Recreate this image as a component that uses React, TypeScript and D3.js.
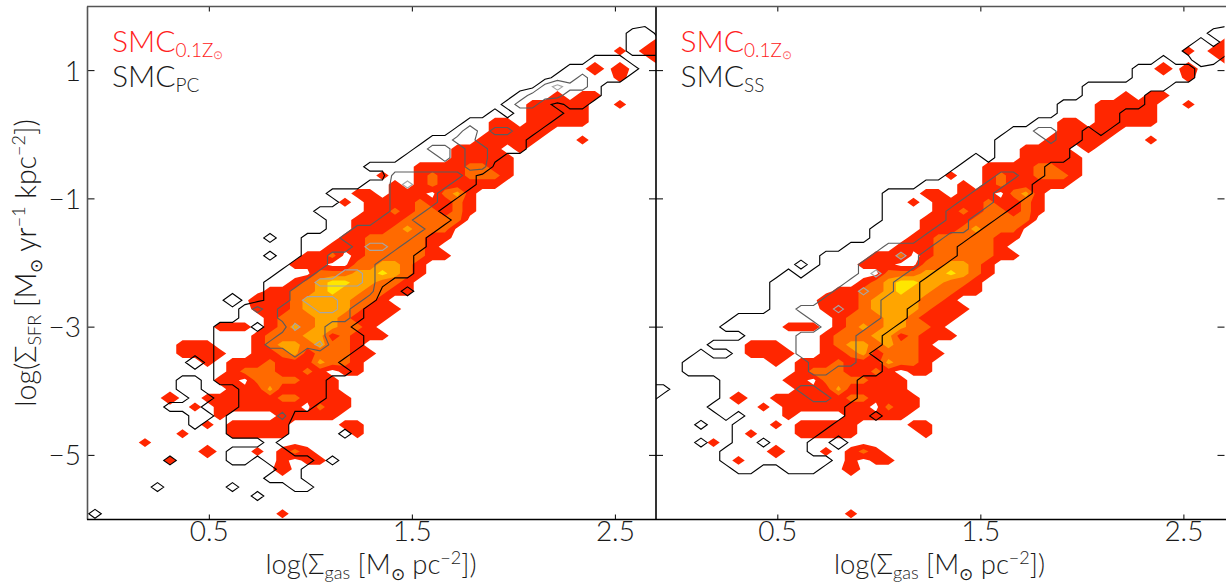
import React, { useMemo } from "react";
import * as d3 from "d3";

// Density grids: [row, firstColumn, digits]. Rows run top to bottom, columns left to right.
const redCells: [number, number, string][] = [
  [4,46,"1"],[5,43,"1"],[5,45,"11"],[6,46,"1"],[7,41,"2"],[7,43,"2"],[8,43,"1"],
  [10,38,"1"],[10,40,"11"],[11,36,"11111"],[11,43,"1"],[12,36,"11111"],[13,33,"11"],[13,36,"11111"],
  [14,33,"11111"],[15,32,"11111"],[15,40,"1"],[16,30,"111101"],[17,30,"11111"],[18,27,"11113311"],
  [19,24,"10013113331"],[20,25,"101311111"],[21,22,"1101110351"],[22,21,"10111131131"],[23,23,"113133131"],
  [24,22,"111133333"],[25,22,"11135333"],[26,21,"113333311"],[27,20,"111333331"],[28,18,"113013333311"],
  [29,17,"11100335531"],[30,19,"333557531"],[31,17,"1357755331"],[32,15,"113357553311"],[33,14,"21135555331"],
  [34,14,"111355553111"],[35,15,"1333553111"],[36,11,"111"],[36,15,"135355331"],[37,14,"13335513111"],
  [38,8,"111"],[38,14,"135535331"],[39,8,"1111"],[39,14,"1135133311"],[40,10,"1"],[40,12,"11"],[40,14,"131115331"],
  [41,12,"13331131011"],[42,11,"1103333111"],[43,12,"111511111"],[44,7,"2"],[44,10,"111111331111"],
  [45,9,"1"],[45,11,"11111110311"],[46,11,"1"],[46,16,"11111"],[47,10,"1"],[47,12,"11111"],[47,21,"11"],
  [48,8,"1"],[48,12,"11111"],[48,22,"1"],[49,5,"1"],[50,10,"2"],[50,14,"1"],[50,16,"131"],
  [51,7,"1"],[51,16,"1"],[51,18,"11"],[52,16,"2"],[57,16,"1"],
];

const pcCells: [number, number, string][] = [
  [3,44,"12"],[4,44,"111"],[5,44,"111"],[6,41,"111"],[7,39,"111111"],[8,38,"113111"],[9,37,"35331"],
  [10,35,"1333111"],[11,34,"1331011"],[12,33,"101111"],[13,31,"1111111"],[14,30,"1413311"],[15,28,"11331111"],
  [16,27,"133133111"],[17,26,"11131331"],[18,23,"1111111133"],[19,25,"3333331"],[20,23,"113533311"],
  [21,20,"11111333311"],[22,21,"111133331"],[23,19,"1111113331"],[24,20,"1111333111"],[25,20,"113333331"],
  [26,15,"1"],[26,18,"1113333331"],[27,18,"1111355311"],[28,15,"1"],[28,18,"113333311"],[29,17,"1113333111"],
  [30,16,"11133553111"],[31,15,"1113555531"],[32,15,"113333333"],[32,26,"1"],[33,12,"2"],[33,15,"113555331"],
  [34,13,"1313335531"],[35,13,"1113333331"],[36,11,"11101153311"],[37,11,"111113333111"],[38,11,"111133335111"],
  [39,11,"11111131111"],[40,9,"2"],[40,11,"1111111111"],[41,11,"11111111111"],[42,8,"11"],[42,11,"111111111"],
  [43,8,"11"],[43,13,"1111111"],[44,9,"11"],[44,13,"1111111"],[45,7,"111"],[45,13,"111111"],[46,9,"11"],
  [46,12,"11113"],[47,9,"1"],[47,12,"11111"],[48,12,"11111"],[48,21,"1"],[49,15,"1"],[50,12,"11111"],
  [51,7,"1"],[51,12,"11"],[51,15,"1111"],[51,20,"1"],[52,16,"11"],[53,15,"111"],[54,6,"1"],[54,12,"1"],
  [54,17,"11"],[55,14,"1"],[57,1,"1"],
];

const ssCells: [number, number, string][] = [
  [3,45,"12"],[4,44,"101"],[5,43,"1111"],[6,41,"1"],[6,44,"21"],[7,39,"11111"],[8,39,"11111"],[9,35,"1111111"],
  [10,35,"11111"],[11,33,"1111111"],[12,33,"11111"],[13,31,"1111111"],[14,29,"113311"],[14,36,"1"],
  [15,28,"1111311"],[16,28,"111111"],[17,26,"10111111"],[18,25,"1111111"],[19,24,"11113311"],[20,22,"111113311"],
  [21,19,"111111133111"],[22,19,"11111133311"],[23,19,"1111133311"],[24,19,"111113311"],[25,18,"111113331"],
  [26,18,"11113311"],[27,16,"111333311"],[28,14,"11113353111"],[29,12,"1"],[29,14,"1113333311"],[30,11,"1"],
  [30,13,"1111353311"],[31,10,"111111333311"],[32,10,"111113353311"],[33,10,"111133333111"],[34,10,"11333533311"],
  [35,7,"11111133333311"],[36,6,"11111111333311"],[37,8,"11113333311"],[38,5,"11111113333311"],[39,4,"1"],
  [39,7,"11111333331"],[40,3,"1111111111333311"],[41,3,"1111111111331111"],[42,6,"11111111111"],[43,0,"11"],
  [43,6,"11111133111"],[44,0,"1"],[44,6,"11111113311"],[45,5,"11111111111"],[46,6,"1011111111"],[46,18,"1"],
  [47,4,"1"],[47,7,"11111111"],[48,7,"1111111"],[49,4,"1"],[49,7,"110111"],[49,15,"2"],[50,6,"1111111"],
  [51,6,"111111111"],[52,7,"11"],[52,11,"111"],
];

const xTicks = [0.5, 1.5, 2.5];
const yTicks = [1, -1, -3, -5];
const fillLevels = [0.5, 2.2, 4.2, 6.2];
const fillColors = ["#ff2600", "#ff6a00", "#ffa500", "#ffe600"];
const lineLevels = [0.5, 2.2, 4.2];
const lineColors = ["#000000", "#5c5c5c", "#a6a6a6"];

const COLS = 47;
const ROWS = 58;
const GRID_X0 = -0.12463;
const GRID_DX = 0.06156;
const GRID_DY = 0.13879;

function toGrid(cells: [number, number, string][]): number[] {
  const v = new Array(COLS * ROWS).fill(0);
  for (const [r, c, digits] of cells) {
    digits.split("").forEach((d, i) => { v[r * COLS + c + i] = +d; });
  }
  return v;
}

const yScale = d3.scaleLinear().domain([-6, 2]).range([519.5, 6.5]);
const TOP = 6.5, BOTTOM = 519.5, W = 568.5;

function Panel({ x0, id, lines, lineId }: { x0: number; id: string; lines: number[]; lineId: string }) {
  const xScale = d3.scaleLinear().domain([-0.1, 2.7]).range([x0, x0 + W]);
  const path = d3.geoPath(d3.geoTransform({
    point(x: number, y: number) {
      (this as any).stream.point(
        xScale(GRID_X0 + (x - 0.5) * GRID_DX),
        yScale(2 - (y - 0.5) * GRID_DY),
      );
    },
  }));
  const red = useMemo(() => toGrid(redCells), []);
  const fills = d3.contours().size([COLS, ROWS]).smooth(true).thresholds(fillLevels)(red);
  const strokes = d3.contours().size([COLS, ROWS]).smooth(true).thresholds(lineLevels)(lines);
  return (
    <g>
      <clipPath id={id}><rect x={x0} y={TOP} width={W} height={BOTTOM - TOP} /></clipPath>
      <g clipPath={`url(#${id})`}>
        {fills.map((c, i) => <path key={i} d={path(c as any) || ""} fill={fillColors[i]} />)}
        {strokes.map((c, i) => (
          <path key={i} data-k={lineId} d={path(c as any) || ""} fill="none" stroke={lineColors[i]} strokeWidth={1.15} strokeLinejoin="miter" />
        ))}
      </g>
      {xTicks.map(t => (
        <g key={t}>
          <line x1={xScale(t)} x2={xScale(t)} y1={BOTTOM} y2={BOTTOM - 5} stroke="#000" strokeWidth={1} />
          <line x1={xScale(t)} x2={xScale(t)} y1={TOP} y2={TOP + 5} stroke="#000" strokeWidth={1} />
          <text x={xScale(t)} y={541} textAnchor="middle" fontSize={28} fill="#1a1a1a">{t.toFixed(1)}</text>
        </g>
      ))}
      {yTicks.map(t => (
        <g key={t}>
          <line x1={x0} x2={x0 + 7} y1={yScale(t)} y2={yScale(t)} stroke="#000" strokeWidth={1} />
          <line x1={x0 + W} x2={x0 + W - 7} y1={yScale(t)} y2={yScale(t)} stroke="#000" strokeWidth={1} />
        </g>
      ))}
      <text x={x0 + 283.5} y={574} textAnchor="middle" fontSize={27.5} fill="#1a1a1a">
        log(Σ<tspan fontSize={18} dy={5}>gas</tspan><tspan dy={-5}> [M</tspan>
        <tspan fontSize={17} dy={6} fontFamily="DejaVu Sans">⊙</tspan>
        <tspan dy={-6}> pc</tspan><tspan fontSize={18} dy={-10}>−2</tspan><tspan dy={10}>])</tspan>
      </text>
    </g>
  );
}

function Legend({ x, sub }: { x: number; sub: string }) {
  return (
    <g fontSize={30}>
      <text x={x} y={52} fill="#ff2020">
        SMC<tspan fontSize={19} dy={5}>0.1Z</tspan>
        <tspan fontSize={12} dy={2} fontFamily="DejaVu Sans" fillOpacity={0.7}>⊙</tspan>
      </text>
      <text x={x} y={87} fill="#1a1a1a">
        SMC<tspan fontSize={19} dy={5}>{sub}</tspan>
      </text>
    </g>
  );
}

export default function App() {
  const pc = useMemo(() => toGrid(pcCells), []);
  const ss = useMemo(() => toGrid(ssCells), []);
  return (
    <svg width={1226} height={583} viewBox="0 0 1226 583"
      style={{ position: "fixed", left: 0, top: 0, display: "block", background: "#fff" }}
      fontFamily="Lato, 'Open Sans', sans-serif" fontWeight={300}>
      <Panel x0={87.5} id="clipL" lines={pc} lineId="pc" />
      <Panel x0={656} id="clipR" lines={ss} lineId="ss" />
      <line x1={87.5} x2={87.5} y1={TOP} y2={BOTTOM} stroke="#555" strokeWidth={1.6} />
      <line x1={656} x2={656} y1={TOP} y2={BOTTOM} stroke="#000" strokeWidth={1.6} />
      <line x1={87} x2={1226} y1={TOP} y2={TOP} stroke="#555" strokeWidth={1.6} />
      <line x1={87} x2={1226} y1={BOTTOM} y2={BOTTOM} stroke="#000" strokeWidth={1.4} />
      {yTicks.map(t => (
        <text key={t} x={81} y={yScale(t) + 10} textAnchor="end" fontSize={28} fill="#1a1a1a">
          {t < 0 ? `−${-t}` : `${t}`}
        </text>
      ))}
      <text transform="translate(36,263) rotate(-90)" textAnchor="middle" fontSize={28.5} fill="#1a1a1a">
        log(Σ<tspan fontSize={18} dy={5}>SFR</tspan><tspan dy={-5}> [M</tspan>
        <tspan fontSize={17} dy={6} fontFamily="DejaVu Sans">⊙</tspan>
        <tspan dy={-6}> yr</tspan><tspan fontSize={18} dy={-11}>−1</tspan>
        <tspan dy={11}> kpc</tspan><tspan fontSize={18} dy={-11}>−2</tspan><tspan dy={11}>])</tspan>
      </text>
      <Legend x={112} sub="PC" />
      <Legend x={680.5} sub="SS" />
    </svg>
  );
}
